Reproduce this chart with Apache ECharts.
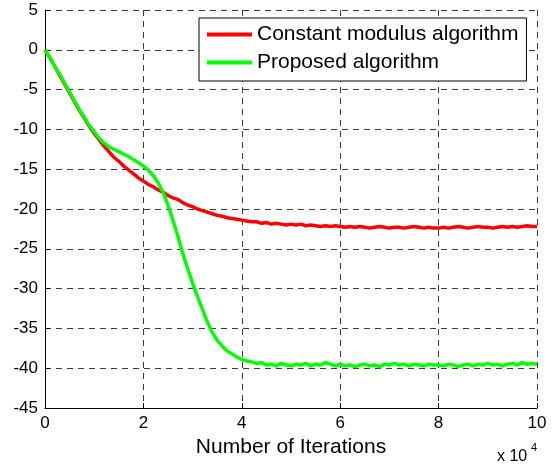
<!DOCTYPE html>
<html>
<head>
<meta charset="utf-8">
<script src="https://cdn.jsdelivr.net/npm/echarts@6/dist/echarts.min.js"></script>
<style>
  html, body { margin: 0; padding: 0; background: #fff; }
  #main { width: 558px; height: 465px; }
</style>
</head>
<body>
<div id="main"></div>
<script>
// iterations, in units of 10^4
const iterations = [
  0, 0.1, 0.2, 0.3, 0.4, 0.5, 0.6, 0.7, 0.8, 0.9,
  1, 1.1, 1.2, 1.3, 1.4, 1.5, 1.6, 1.7, 1.8, 1.9,
  2, 2.1, 2.2, 2.3, 2.4, 2.5, 2.6, 2.7, 2.8, 2.9,
  3, 3.1, 3.2, 3.3, 3.4, 3.5, 3.6, 3.7, 3.8, 3.9,
  4, 4.1, 4.2, 4.3, 4.4, 4.5, 4.6, 4.7, 4.8, 4.9,
  5, 5.1, 5.2, 5.3, 5.4, 5.5, 5.6, 5.7, 5.8, 5.9,
  6, 6.1, 6.2, 6.3, 6.4, 6.5, 6.6, 6.7, 6.8, 6.9,
  7, 7.1, 7.2, 7.3, 7.4, 7.5, 7.6, 7.7, 7.8, 7.9,
  8, 8.1, 8.2, 8.3, 8.4, 8.5, 8.6, 8.7, 8.8, 8.9,
  9, 9.1, 9.2, 9.3, 9.4, 9.5, 9.6, 9.7, 9.8, 9.9, 10
];

const cmaValues = [
  0, -1.0, -2.1, -3.2, -4.3, -5.4, -6.5, -7.6, -8.6, -9.6,
  -10.5, -11.3, -12.1, -12.8, -13.5, -14.0, -14.6, -15.1, -15.6, -16.1,
  -16.5, -16.9, -17.2, -17.6, -17.9, -18.3, -18.6, -18.8, -19.2, -19.5,
  -19.7, -20.0, -20.2, -20.4, -20.6, -20.8, -20.9, -21.1, -21.2, -21.3,
  -21.4, -21.5, -21.6, -21.6, -21.8, -21.7, -21.9, -21.8, -21.9, -22.0,
  -21.9, -22.0, -21.9, -22.1, -22.0, -22.1, -22.2, -22.1, -22.2, -22.1,
  -22.2, -22.3, -22.2, -22.3, -22.2, -22.3, -22.4, -22.3, -22.2, -22.3,
  -22.4, -22.3, -22.3, -22.4, -22.3, -22.2, -22.3, -22.4, -22.3, -22.4,
  -22.4, -22.3, -22.4, -22.3, -22.2, -22.3, -22.4, -22.3, -22.2, -22.3,
  -22.3, -22.4, -22.3, -22.2, -22.3, -22.2, -22.3, -22.2, -22.1, -22.2, -22.2
];

const proposedValues = [
  0, -1.0, -2.1, -3.1, -4.2, -5.3, -6.4, -7.5, -8.5, -9.5,
  -10.3, -11.1, -11.7, -12.2, -12.5, -12.8, -13.1, -13.4, -13.8, -14.2,
  -14.6, -15.1, -15.8, -16.7, -17.9, -19.5, -21.4, -23.4, -25.6, -27.5,
  -29.3, -31.0, -32.6, -34.2, -35.5, -36.5, -37.2, -37.8, -38.2, -38.6,
  -38.9, -39.1, -39.2, -39.4, -39.3, -39.6, -39.5, -39.7, -39.4, -39.6,
  -39.7, -39.5, -39.6, -39.4, -39.7, -39.5, -39.6, -39.3, -39.5, -39.7,
  -39.5, -39.7, -39.6, -39.8, -39.6, -39.5, -39.7, -39.6, -39.8, -39.5,
  -39.6, -39.4, -39.6, -39.5, -39.7, -39.5, -39.6, -39.7, -39.5, -39.6,
  -39.6, -39.7, -39.5, -39.6, -39.8, -39.6, -39.5, -39.7, -39.5, -39.6,
  -39.4, -39.6, -39.5, -39.7, -39.5, -39.4, -39.6, -39.3, -39.5, -39.4, -39.5
];

const seriesNames = ["Constant modulus algorithm", "Proposed algorithm"];

const font = "'Liberation Sans', Arial, sans-serif";
const gridLine = { show: true, lineStyle: { color: "#3a3a3a", type: [6, 5], width: 1 } };

const pairs = (ys) => iterations.map((x, i) => [x, ys[i]]);

const myChart = echarts.init(document.getElementById("main"));
myChart.setOption({
  animation: false,
  backgroundColor: "#fff",
  grid: { left: 45, right: 21, top: 10, bottom: 57, containLabel: false },
  xAxis: {
    type: "value",
    min: 0,
    max: 10,
    interval: 2,
    name: "Number of Iterations",
    nameLocation: "middle",
    nameGap: 27,
    nameTextStyle: { color: "#000", fontSize: 21, fontFamily: font },
    axisLine: { show: true, onZero: false, lineStyle: { color: "#000", width: 1 } },
    axisTick: { show: true, inside: true, length: 5, lineStyle: { color: "#000" } },
    axisLabel: { color: "#000", fontSize: 17, fontFamily: font, margin: 7 },
    splitLine: gridLine
  },
  yAxis: {
    type: "value",
    min: -45,
    max: 5,
    interval: 5,
    axisLine: { show: true, onZero: false, lineStyle: { color: "#000", width: 1 } },
    axisTick: { show: true, inside: true, length: 5, lineStyle: { color: "#000" } },
    axisLabel: { color: "#000", fontSize: 17, fontFamily: font, margin: 7 },
    splitLine: gridLine
  },
  legend: {
    data: seriesNames,
    orient: "vertical",
    left: 199,
    top: 18,
    padding: [6, 8, 8, 8],
    itemGap: 7,
    icon: "rect",
    itemWidth: 45,
    itemHeight: 4,
    backgroundColor: "#fff",
    borderColor: "#000",
    borderWidth: 1,
    borderRadius: 0,
    textStyle: { color: "#000", fontSize: 21, fontFamily: font }
  },
  graphic: [
    {
      type: "text",
      left: 497,
      top: 449,
      style: { text: "x 10", fill: "#000", font: "16px " + font }
    },
    {
      type: "text",
      left: 531,
      top: 442,
      style: { text: "4", fill: "#000", font: "11px " + font }
    }
  ],
  series: [
    {
      name: seriesNames[0],
      type: "line",
      data: pairs(cmaValues),
      showSymbol: false,
      symbol: "none",
      lineStyle: { color: "#ff0000", width: 3.5 },
      itemStyle: { color: "#ff0000" },
      z: 3
    },
    {
      name: seriesNames[1],
      type: "line",
      data: pairs(proposedValues),
      showSymbol: false,
      symbol: "none",
      lineStyle: { color: "#00ff00", width: 3.5 },
      itemStyle: { color: "#00ff00" },
      z: 4
    }
  ]
});
</script>
</body>
</html>
